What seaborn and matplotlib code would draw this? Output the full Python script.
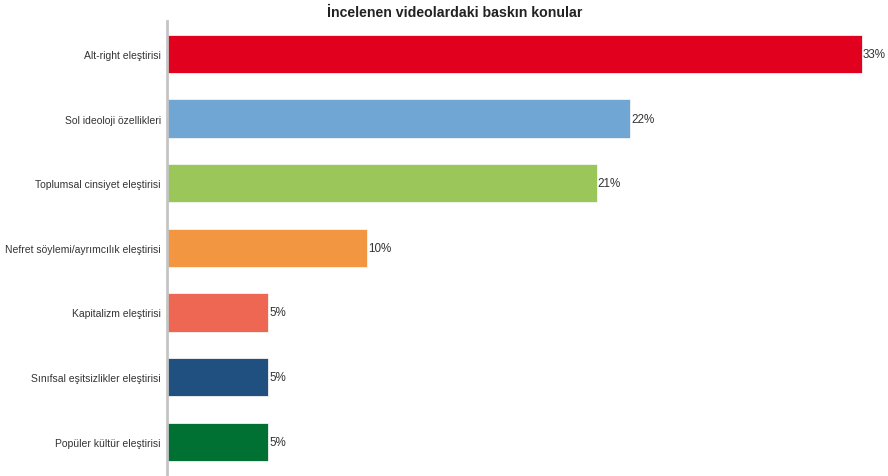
import matplotlib
matplotlib.use("Agg")
import matplotlib.pyplot as plt
import seaborn as sns
import pandas as pd

# data
topics = ["Alt-right eleştirisi", "Sol ideoloji özellikleri",
          "Toplumsal cinsiyet eleştirisi", "Nefret söylemi/ayrımcılık eleştirisi",
          "Kapitalizm eleştirisi", "Sınıfsal eşitsizlikler eleştirisi",
          "Popüler kültür eleştirisi"]
shares = [33.0, 22.0, 20.4, 9.5, 4.8, 4.8, 4.8]
share_labels = ["33%", "22%", "21%", "10%", "5%", "5%", "5%"]
colors = ["#E2001F", "#6FA6D4", "#9BC75A", "#F39641", "#EE6752", "#1F507F", "#007033"]

df = pd.DataFrame({"topic": topics, "share": shares})

sns.set_style("white")
plt.rcParams["font.family"] = ["Liberation Sans", "DejaVu Sans"]

fig = plt.figure(figsize=(8.88, 4.77), dpi=100)
ax = fig.add_axes([0.188, 0.0, 0.812, 0.954])

sns.barplot(data=df, x="share", y="topic", hue="topic", palette=colors,
            legend=False, orient="h", width=0.59, saturation=1,
            edgecolor="#f4f4f4", linewidth=0.6, ax=ax)

# value labels at bar ends
for bar, lab in zip(ax.patches, share_labels):
    ax.text(bar.get_width() + 0.05, bar.get_y() + bar.get_height() / 2, lab,
            va="center", ha="left", fontsize=8.4, color="#333333")

ax.set_xlim(0, 34.24)
ax.set_ylim(6.53, -0.51)
ax.set_xlabel("")
ax.set_ylabel("")
ax.set_xticks([])
ax.tick_params(axis="y", length=0, pad=4.5, labelsize=7.5, labelcolor="#333333")
for s in ["top", "right", "bottom"]:
    ax.spines[s].set_visible(False)
ax.spines["left"].set_color("#c4c4c4")
ax.spines["left"].set_linewidth(2)

fig.text(0.512, 0.972, "İncelenen videolardaki baskın konular",
         ha="center", va="center", fontsize=10.2, fontweight="bold", color="#222222")

fig.savefig("out.png", dpi=100)
